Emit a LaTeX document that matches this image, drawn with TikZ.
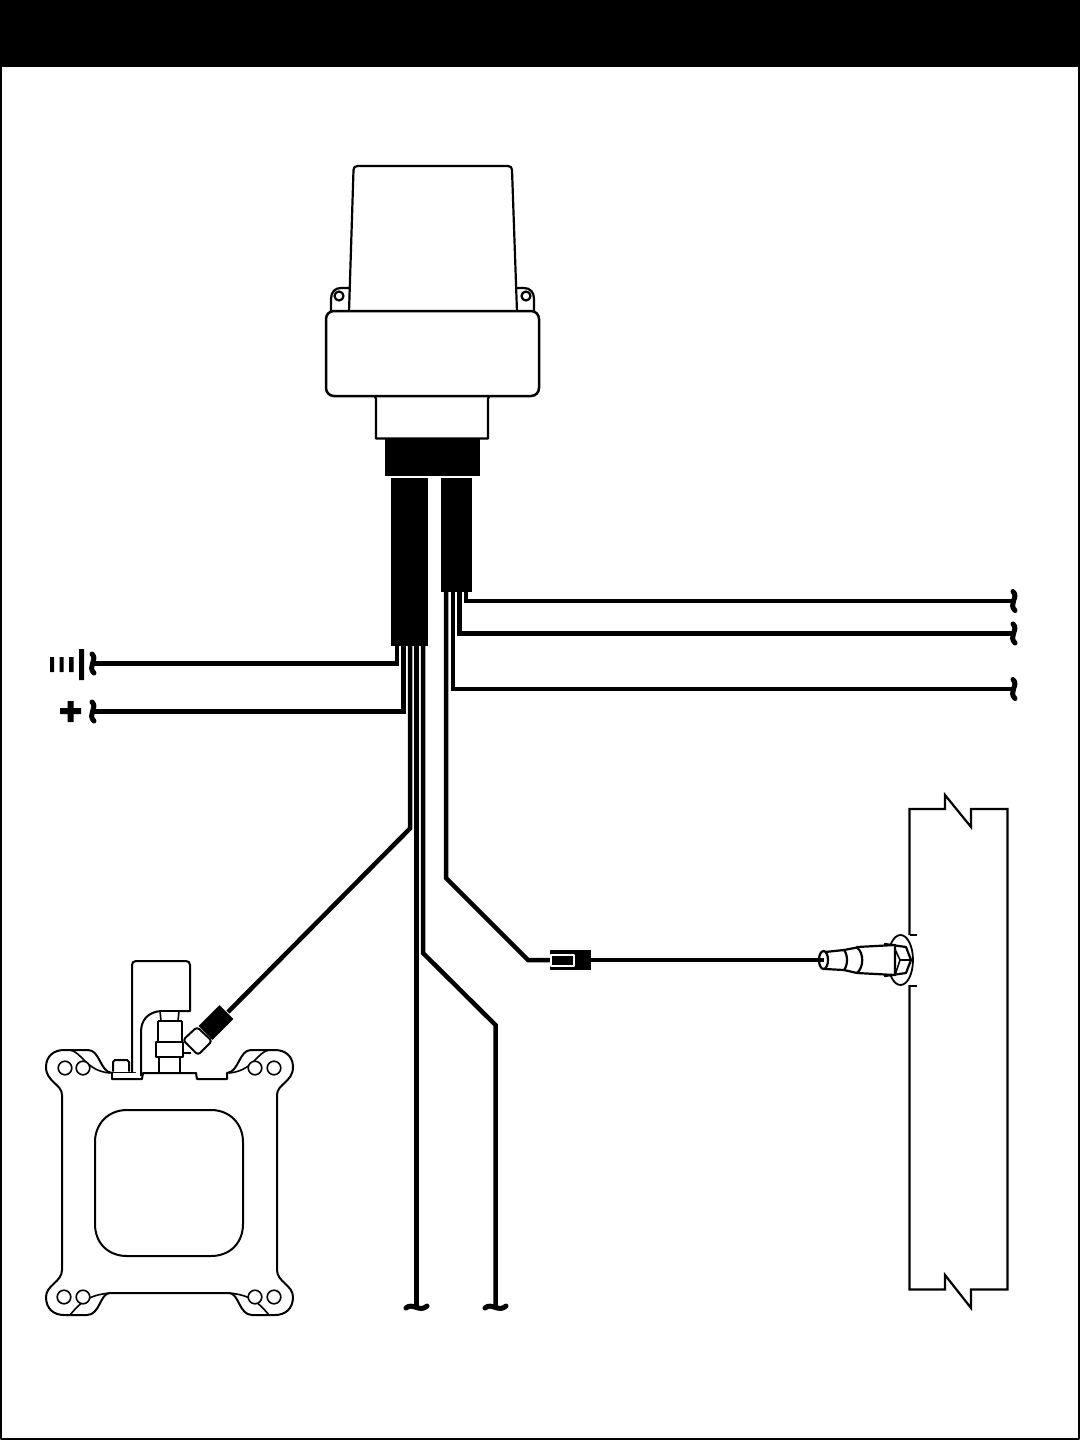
\documentclass[tikz,border=0pt]{standalone}
\begin{document}
\begin{tikzpicture}[x=0.5pt,y=-0.5pt,line join=round,
  wire/.style={draw=black,line width=2.25pt,line join=miter},
  thinwire/.style={draw=black,line width=1.9pt},
  sleeve/.style={fill=black,draw=none,inner sep=0pt,outer sep=0pt,anchor=north west},
  outline/.style={draw=black,line width=1.1pt,fill=white},
  thinline/.style={draw=black,line width=0.8pt},
  breakv/.pic={\draw[line width=2.5pt,line cap=round] (-1,-9.5) .. controls (5,-4) and (-6,3) .. (1,9.5);},
  breakh/.pic={\draw[line width=2.5pt,line cap=round] (-10.5,1) .. controls (-4,-5) and (3,6) .. (10.5,-1);}]
\useasboundingbox (0,0) rectangle (1080,1440);
\fill[white] (0,0) rectangle (1080,1440);
% frame
\fill[black] (0,0) rectangle (1080,67);
\draw[line width=1pt] (1,67) -- (1,1439) -- (1079,1439) -- (1079,67);
% device
\draw[outline] (331,312) -- (331,299) .. controls (331,292) and (335,288) .. (341,288) -- (350,288) -- (350,312) -- cycle;
\draw[outline] (534,312) -- (534,299) .. controls (534,292) and (530,288) .. (524,288) -- (515,288) -- (515,312) -- cycle;
\draw[outline] (339,296) circle[radius=4.5];
\draw[outline] (526,296) circle[radius=4.5];
\draw[outline] (349,312) -- (353.5,170) .. controls (353.5,167.5) and (355,166) .. (357.5,166) -- (508,166) .. controls (510.5,166) and (512,167.5) .. (512,170) -- (517,312) -- cycle;
\draw[outline] (374,394) -- (376,399) -- (376,438.5) -- (488,438.5) -- (488,399) -- (490,394);
\draw[outline,line width=1.25pt,rounded corners=4] (326,311) rectangle (539,396);
\node[sleeve,minimum width=95.5*0.5pt,minimum height=37*0.5pt] (hub) at (384.5,439) {};
\node[sleeve,minimum width=37*0.5pt,minimum height=167.5*0.5pt] (slL) at (391,478) {};
\node[sleeve,minimum width=31*0.5pt,minimum height=113.5*0.5pt] (slR) at (441,478) {};
% wire end points
\coordinate (gnd) at (93,663.5);
\coordinate (pos) at (93,711.5);
\coordinate (endA) at (1014,601);
\coordinate (endB) at (1014,633.5);
\coordinate (endC) at (1014,689);
\coordinate (endD) at (416.5,1307);
\coordinate (endE) at (495.5,1307);
\coordinate (fit) at (228,1012);
% left harness
\draw[wire] (397,645) -- (397,663.5) -- (gnd);
\draw[wire] (403.5,645) -- (403.5,711.5) -- (pos);
\draw[wire] (410,645) -- (410,828.5) -- (fit);
\draw[wire] (416.5,645) -- (endD);
\draw[wire] (423,645) -- (423,953) -- (495.5,1025) -- (endE);
% right harness
\draw[wire] (446,590) -- (446,878) -- (528,960) -- (552,960);
\draw[wire] (453,590) -- (453,689) -- (endC);
\draw[wire] (459.5,590) -- (459.5,633.5) -- (endB);
\draw[wire] (466,590) -- (466,601) -- (endA);
\pic at (93,663.5) {breakv};
\pic at (93,711.5) {breakv};
\pic at (1014,601) {breakv};
\pic at (1014,633.5) {breakv};
\pic at (1014,689) {breakv};
\pic at (416.5,1307) {breakh};
\pic at (495.5,1307) {breakh};
% ground and plus symbols
\fill (50,657) rectangle (54,672) (59.5,657) rectangle (63.5,672) (69,657) rectangle (73.5,672) (79,649) rectangle (84,680);
\fill (60,708) rectangle (81,714) (67.5,701) rectangle (73.5,722);
% connector
\node[sleeve,minimum width=41*0.5pt,minimum height=20*0.5pt] (conn) at (550,950) {};
\draw[draw=white,line width=0.6pt] (551,955) rectangle (574,966);
% wall
\draw[line width=1.1pt,line join=miter] (909.5,935) -- (909.5,809) -- (945,809) -- (945,795) -- (971,827) -- (971,809) -- (1007.5,809) -- (1007.5,1289.5) -- (971,1289.5) -- (971,1308) -- (945,1275) -- (945,1289.5) -- (909.5,1289.5) -- (909.5,985);
\draw[line width=1pt] (909.5,935) -- (917,935) (909.5,985.5) -- (917,985.5);
% sensor
\draw[draw=black,line width=0.9pt,fill=white] (900.5,960) ellipse[x radius=12.5,y radius=25];
\draw[outline] (885,944) -- (906,947) -- (911,960) -- (906,973) -- (885,976) -- cycle;
\draw[thinline] (893,945) -- (900,960) -- (895,975) (900,960) -- (911,960);
\draw[outline] (857,947) -- (895,945) -- (895,975) -- (857,973) -- cycle;
\draw[outline] (844,950) -- (857,947.5) .. controls (864,953) and (864,967) .. (857,973) -- (844,970) -- cycle;
\draw[outline] (825,952) -- (844,950) .. controls (848,955) and (848,965) .. (844,970) -- (825,969) -- cycle;
\draw[outline] (823.5,960) ellipse[x radius=4.5,y radius=9];
\draw[thinwire] (conn.east) -- (823.5,960);
% carburettor plate
\draw[outline,line width=1pt] (62,1150) -- (62,1095) .. controls (62,1084) and (46,1082) .. (46,1067) .. controls (46,1056) and (54,1050) .. (64,1050) -- (88,1050) .. controls (100,1050) and (100,1072) .. (112,1073) -- (112,1079) -- (142,1079) -- (143,1073) -- (196,1073) -- (197,1079) -- (227,1079) -- (227,1073) .. controls (239,1072) and (239,1050) .. (251,1050) -- (275,1050) .. controls (285,1050) and (293,1056) .. (293,1067) .. controls (293,1082) and (277,1084) .. (277,1095) -- (277,1270) .. controls (277,1282) and (293,1285) .. (293,1297) .. controls (293,1309) and (285,1315) .. (275,1315) -- (252,1315) .. controls (239,1315) and (239,1293) .. (229,1293) -- (110,1293) .. controls (100,1293) and (100,1315) .. (87,1315) -- (64,1315) .. controls (54,1315) and (46,1309) .. (46,1297) .. controls (46,1285) and (62,1282) .. (62,1270) -- cycle;
\draw[thinline] (70,1050) .. controls (82,1052) and (86,1071) .. (110,1073);
\draw[thinline] (269,1050) .. controls (257,1052) and (253,1071) .. (229,1073);
\draw[thinline] (70,1315) .. controls (80,1303) and (88,1295) .. (110,1293);
\draw[thinline] (269,1315) .. controls (259,1303) and (251,1295) .. (229,1293);
\foreach \hx/\hy in {65/1068,83/1068,255/1068,274/1068,64/1297,83/1297,255/1297,274/1297}
  \draw[thinline,fill=white] (\hx,\hy) circle[radius=6.8];
\draw[line width=1pt] (127,1110) -- (211,1110) .. controls (230,1110) and (243,1124) .. (243,1142) -- (243,1224) .. controls (243,1243) and (230,1256) .. (211,1256) -- (127,1256) .. controls (108,1256) and (95,1243) .. (95,1224) -- (95,1142) .. controls (95,1124) and (108,1110) .. (127,1110) -- cycle;
% bracket and fitting
\draw[outline,line width=1pt] (113,1071.5) -- (113,1062) -- (115,1060) -- (127,1060) -- (129,1062) -- (129,1071.5);
\draw[line width=1.2pt] (114,1060) -- (128,1060);
\fill[white] (112.5,1074) rectangle (141,1078);
\draw[line width=0.8pt] (112,1072.5) -- (136,1072.5);
\fill[white] (133,963) rectangle (189,1010) (133,1010) rectangle (141,1072);
\draw[line width=1pt] (132,1072) -- (132,965) .. controls (132,962.5) and (133.5,961) .. (136,961) -- (186,961) .. controls (188.5,961) and (190,962.5) .. (190,965) -- (190,1011) -- (161,1011) .. controls (148,1012) and (141,1020) .. (141,1032) -- (141,1076);
\fill[white] (159,1012) rectangle (180,1072);
\draw[thinline] (160,1011) -- (161,1021) (179,1011) -- (178,1021);
\draw[line width=1pt] (157.5,1021) -- (181.5,1021) (157.5,1021) -- (157.5,1042) (181.5,1021) -- (181.5,1042);
\draw[line width=1pt] (158.5,1057) -- (158.5,1072) (180,1057) -- (180,1072);
\draw[line width=1pt,fill=white] (156,1042) rectangle (183,1057);
\draw[thinline] (183,1053) -- (191,1053);
\draw[outline,line width=1pt,rounded corners=1.5] (197,1027) -- (212,1041) -- (198,1055) -- (183,1040) -- cycle;
\node[fill=black,draw=none,inner sep=0pt,minimum width=19.5*0.5pt,minimum height=29.5*0.5pt,rotate=-45] (plug) at (216,1022.5) {};
\end{tikzpicture}
\end{document}
